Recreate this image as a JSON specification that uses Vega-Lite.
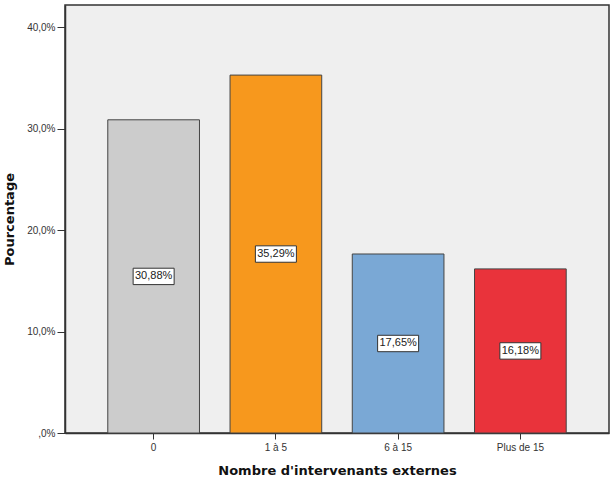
{
  "$schema": "https://vega.github.io/schema/vega-lite/v6.json",
  "autosize": {"type": "none"},
  "width": 544,
  "height": 428,
  "padding": {"left": 65, "top": 5, "right": 6, "bottom": 45},
  "background": "#ffffff",
  "config": {
    "view": {"fill": "#efefef", "stroke": "#333333", "strokeWidth": 1.5},
    "font": "Liberation Sans"
  },
  "data": {
    "values": [
      {"cat": "0", "pct": 30.88},
      {"cat": "1 à 5", "pct": 35.29},
      {"cat": "6 à 15", "pct": 17.65},
      {"cat": "Plus de 15", "pct": 16.18}
    ]
  },
  "transform": [
    {"calculate": "datum.pct / 2", "as": "mid"},
    {"calculate": "replace(format(datum.pct, '.2f'), '.', ',') + '%'", "as": "lbl"}
  ],
  "encoding": {
    "x": {
      "field": "cat",
      "type": "nominal",
      "sort": null,
      "scale": {"paddingInner": 0.25, "paddingOuter": 0.35},
      "axis": {
        "title": "Nombre d'intervenants externes",
        "titleFont": "DejaVu Sans",
        "titleFontSize": 13,
        "titleFontWeight": "bold",
        "titleColor": "#111111",
        "titlePadding": 12,
        "labelAngle": 0,
        "labelFontSize": 10,
        "labelColor": "#333333",
        "labelPadding": 3,
        "tickSize": 6,
        "tickColor": "#333333",
        "domainColor": "#333333",
        "domainWidth": 1.5,
        "grid": false
      }
    }
  },
  "layer": [
    {
      "mark": {"type": "bar", "stroke": "#444444", "strokeWidth": 1},
      "encoding": {
        "y": {
          "field": "pct",
          "type": "quantitative",
          "scale": {"domain": [0, 42.2], "nice": false},
          "axis": {
            "title": "Pourcentage",
            "titleFont": "DejaVu Sans",
            "titleFontSize": 13,
            "titleFontWeight": "bold",
            "titleColor": "#111111",
            "titlePadding": 10,
            "values": [0, 10, 20, 30, 40],
            "labelExpr": "datum.value == 0 ? ',0%' : replace(format(datum.value, '.1f'), '.', ',') + '%'",
            "labelFontSize": 10,
            "labelColor": "#333333",
            "labelPadding": 2,
            "tickSize": 8,
            "tickColor": "#333333",
            "domainColor": "#333333",
            "domainWidth": 1.5,
            "grid": false
          }
        },
        "color": {
          "field": "cat",
          "type": "nominal",
          "sort": null,
          "scale": {"range": ["#cccccc", "#f7981d", "#7aa8d5", "#e9333b"]},
          "legend": null
        }
      }
    },
    {
      "mark": {
        "type": "point",
        "shape": "M-1,-0.4L1,-0.4L1,0.4L-1,0.4Z",
        "size": 1681,
        "filled": true,
        "fill": "#ffffff",
        "stroke": "#333333",
        "strokeWidth": 1,
        "opacity": 1
      },
      "encoding": {
        "y": {"field": "mid", "type": "quantitative"}
      }
    },
    {
      "mark": {"type": "text", "fontSize": 11, "color": "#222222", "baseline": "middle", "align": "center"},
      "encoding": {
        "y": {"field": "mid", "type": "quantitative"},
        "text": {"field": "lbl"}
      }
    }
  ]
}
